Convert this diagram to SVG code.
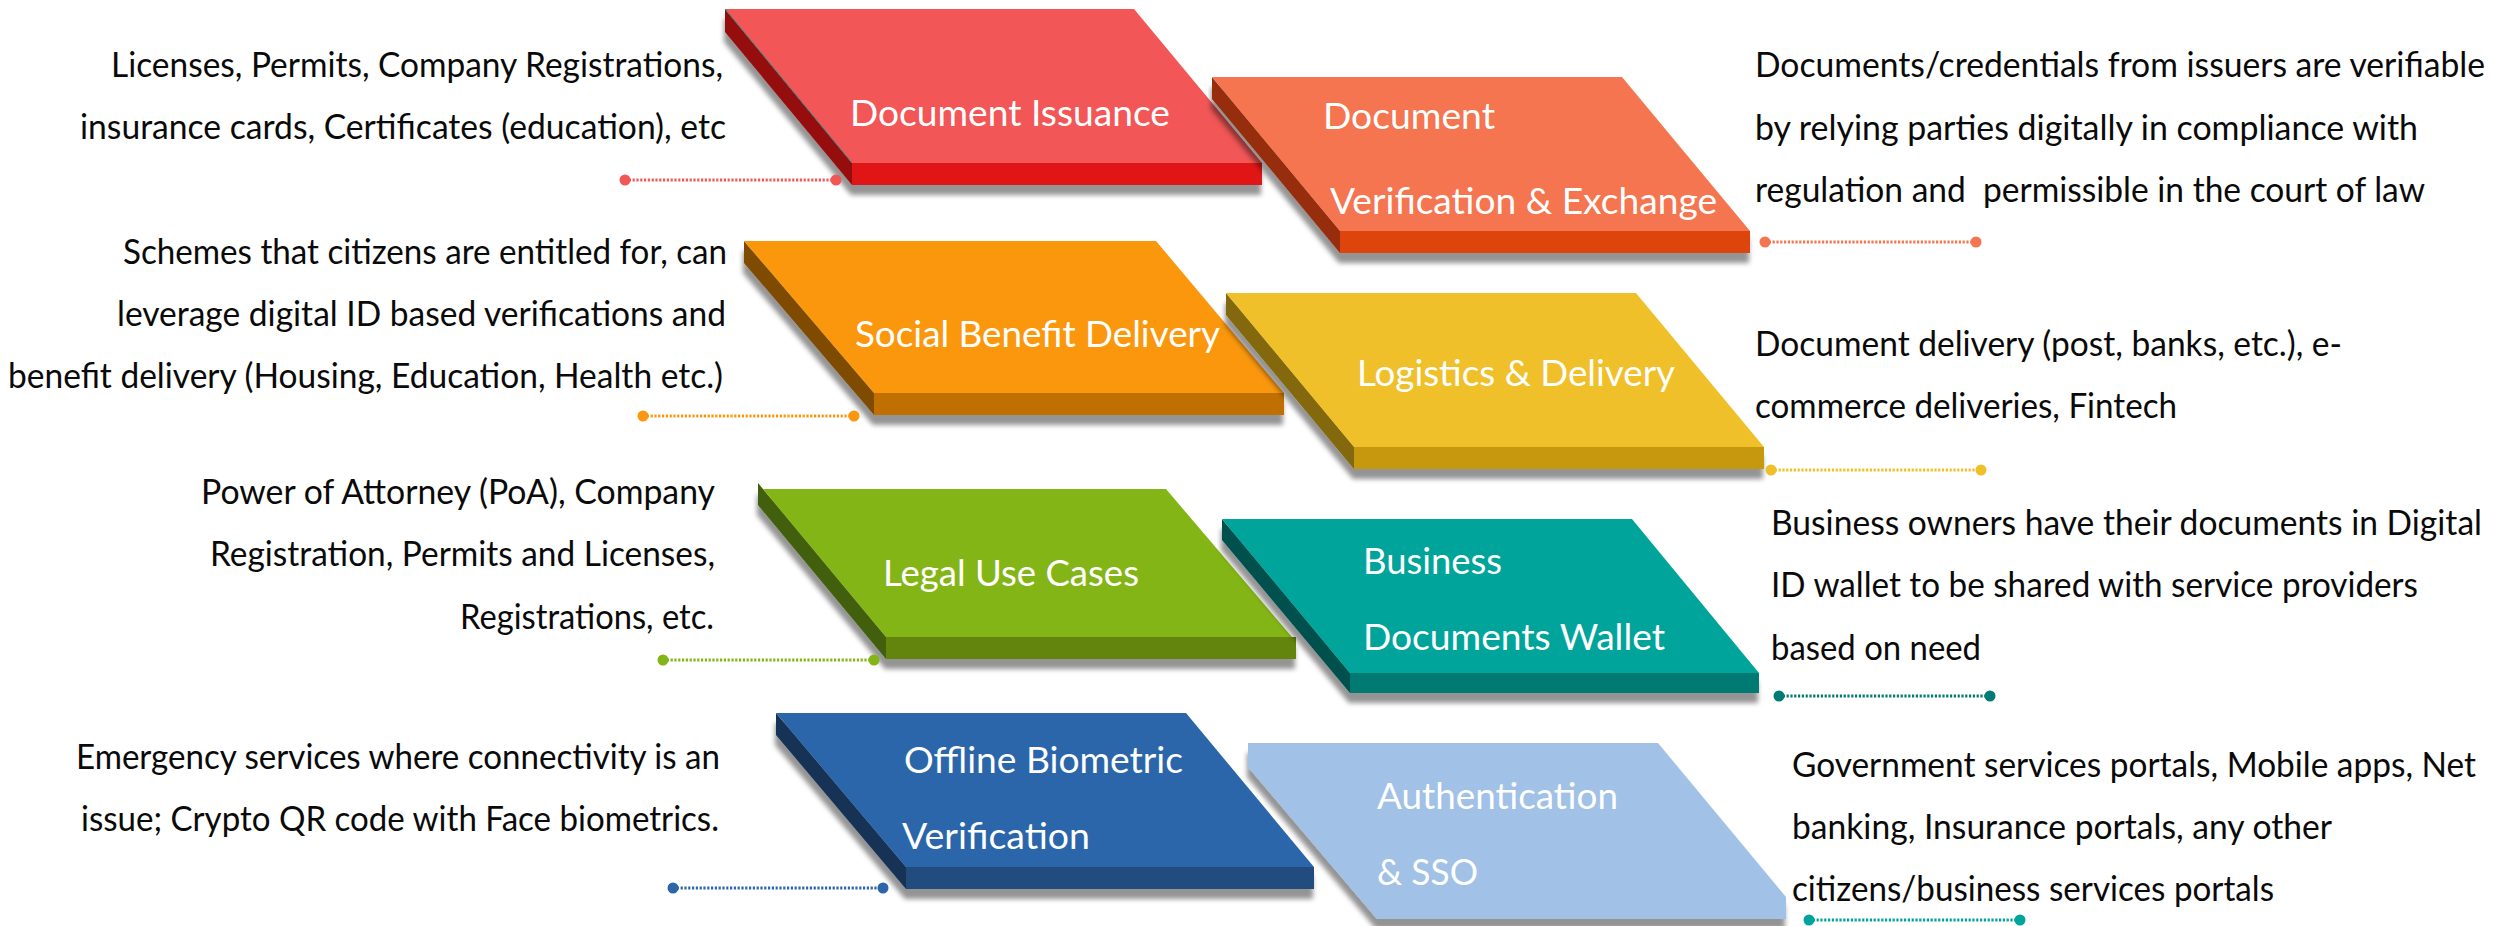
<svg xmlns="http://www.w3.org/2000/svg" width="2511" height="926" viewBox="0 0 2511 926">
<defs>
<filter id="sh" x="-10%" y="-10%" width="120%" height="125%">
<feGaussianBlur in="SourceAlpha" stdDeviation="2.5"/>
<feOffset dx="-1" dy="10" result="b"/>
<feFlood flood-color="#000" flood-opacity="0.42"/>
<feComposite in2="b" operator="in"/>
<feMerge><feMergeNode/><feMergeNode in="SourceGraphic"/></feMerge>
</filter>
</defs>
<style>
text{font-family:"Lato","Open Sans","Liberation Sans",sans-serif;white-space:pre}
.d{font-size:34px;fill:#0a0a0a}
.n{font-size:37px;fill:#fff}
.s{filter:url(#sh)}
#connectors line{stroke-width:3;stroke-dasharray:2.2 1.6}
#connectors circle{stroke:none}
</style>
<rect width="2511" height="926" fill="#fff"/>

<g id="node-document-issuance">
<g class="s">
<polygon points="725,9 852,163 852,185 725,32" fill="#950d0f"/>
<polygon points="725,9 1134,9 1262,163 852,163" fill="#f25757"/>
<rect x="852" y="163" width="410" height="22" fill="#e01515"/>
<line x1="725" y1="9" x2="852" y2="163" stroke="#2a8a86" stroke-width="1"/>
</g>
<text class="n" x="850" y="126" textLength="320" lengthAdjust="spacingAndGlyphs">Document Issuance</text>
</g>

<g id="node-social-benefit">
<g class="s">
<polygon points="744,241 874,393 874,415 744,263" fill="#7f4c02"/>
<polygon points="744,241 1156,241 1284,393 874,393" fill="#fb970f"/>
<rect x="874" y="393" width="410" height="22" fill="#bf7005"/>
</g>
<text class="n" x="855" y="347" textLength="365" lengthAdjust="spacingAndGlyphs">Social Benefit Delivery</text>
</g>

<g id="node-legal">
<g class="s">
<polygon points="758,483 886,637 886,659 758,505" fill="#425f09"/>
<polygon points="763,489 1166,489 1292,637 886,637" fill="#84b516"/>
<rect x="886" y="637" width="410" height="22" fill="#64840f"/>
</g>
<text class="n" x="883" y="586" textLength="256" lengthAdjust="spacingAndGlyphs">Legal Use Cases</text>
</g>

<g id="node-offline-biometric">
<g class="s">
<polygon points="776,713 906,867 906,889 776,735" fill="#183354"/>
<polygon points="776,713 1186,713 1314,867 906,867" fill="#2c66a9"/>
<rect x="906" y="867" width="408" height="22" fill="#204c7e"/>
</g>
<text class="n" x="904" y="773" textLength="279" lengthAdjust="spacingAndGlyphs">Offline Biometric</text>
<text class="n" x="902" y="849" textLength="188" lengthAdjust="spacingAndGlyphs">Verification</text>
</g>

<g id="node-document-verification">
<g class="s">
<polygon points="1212,77 1340,231 1340,253 1212,99" fill="#962e0c"/>
<polygon points="1212,77 1622,77 1750,231 1340,231" fill="#f4754f"/>
<rect x="1340" y="231" width="410" height="22" fill="#dd4410"/>
</g>
<text class="n" x="1323" y="129" textLength="172" lengthAdjust="spacingAndGlyphs">Document</text>
<text class="n" x="1330" y="214" textLength="387" lengthAdjust="spacingAndGlyphs">Verification &amp; Exchange</text>
</g>

<g id="node-logistics">
<g class="s">
<polygon points="1226,293 1354,447 1354,469 1226,315" fill="#836707"/>
<polygon points="1226,293 1636,293 1764,447 1354,447" fill="#efc02a"/>
<rect x="1354" y="447" width="410" height="22" fill="#c5980f"/>
</g>
<text class="n" x="1357" y="386" textLength="318" lengthAdjust="spacingAndGlyphs">Logistics &amp; Delivery</text>
</g>

<g id="node-business-wallet">
<g class="s">
<polygon points="1222,519 1350,673 1350,693 1222,540" fill="#00514d"/>
<polygon points="1222,519 1632,519 1759,673 1350,673" fill="#00a49b"/>
<rect x="1350" y="673" width="409" height="20" fill="#007a73"/>
</g>
<text class="n" x="1363" y="574" textLength="139" lengthAdjust="spacingAndGlyphs">Business</text>
<text class="n" x="1363" y="650" textLength="302" lengthAdjust="spacingAndGlyphs">Documents Wallet</text>
</g>

<g id="node-authentication">
<g class="s">
<polygon points="1248,743 1658,743 1786,897 1786,919 1377,919 1248,767" fill="#a1c1e6"/>
</g>
<text class="n" x="1377" y="809" textLength="241" lengthAdjust="spacingAndGlyphs">Authentication</text>
<text class="n" x="1377" y="885" textLength="101" lengthAdjust="spacingAndGlyphs">&amp; SSO</text>
</g>

<g id="connectors">
<g stroke="#f25757" fill="#f25757"><line x1="625" y1="180" x2="836" y2="180"/><circle cx="625" cy="180" r="5.5"/><circle cx="836" cy="180" r="5.5"/></g>
<g stroke="#fb970f" fill="#fb970f"><line x1="643" y1="416" x2="854" y2="416"/><circle cx="643" cy="416" r="5.5"/><circle cx="854" cy="416" r="5.5"/></g>
<g stroke="#84b516" fill="#84b516"><line x1="663" y1="660" x2="874" y2="660"/><circle cx="663" cy="660" r="5.5"/><circle cx="874" cy="660" r="5.5"/></g>
<g stroke="#2c66a9" fill="#2c66a9"><line x1="673" y1="888" x2="883" y2="888"/><circle cx="673" cy="888" r="5.5"/><circle cx="883" cy="888" r="5.5"/></g>
<g stroke="#f4754f" fill="#f4754f"><line x1="1765" y1="242" x2="1976" y2="242"/><circle cx="1765" cy="242" r="5.5"/><circle cx="1976" cy="242" r="5.5"/></g>
<g stroke="#efc02a" fill="#efc02a"><line x1="1771" y1="470" x2="1981" y2="470"/><circle cx="1771" cy="470" r="5.5"/><circle cx="1981" cy="470" r="5.5"/></g>
<g stroke="#007a73" fill="#007a73"><line x1="1779" y1="696" x2="1990" y2="696"/><circle cx="1779" cy="696" r="5.5"/><circle cx="1990" cy="696" r="5.5"/></g>
<g stroke="#00a49b" fill="#00a49b"><line x1="1809" y1="920" x2="2020" y2="920"/><circle cx="1809" cy="920" r="5.5"/><circle cx="2020" cy="920" r="5.5"/></g>
</g>

<g id="desc-document-issuance">
<text class="d" x="111" y="77" textLength="612" lengthAdjust="spacingAndGlyphs">Licenses, Permits, Company Registrations,</text>
<text class="d" x="80" y="139" textLength="646" lengthAdjust="spacingAndGlyphs">insurance cards, Certificates (education), etc</text>
</g>
<g id="desc-social-benefit">
<text class="d" x="123" y="264" textLength="604" lengthAdjust="spacingAndGlyphs">Schemes that citizens are entitled for, can</text>
<text class="d" x="117" y="326" textLength="609" lengthAdjust="spacingAndGlyphs">leverage digital ID based verifications and</text>
<text class="d" x="8" y="388" textLength="715" lengthAdjust="spacingAndGlyphs">benefit delivery (Housing, Education, Health etc.)</text>
</g>
<g id="desc-legal">
<text class="d" x="201" y="504" textLength="514" lengthAdjust="spacingAndGlyphs">Power of Attorney (PoA), Company</text>
<text class="d" x="210" y="566" textLength="505" lengthAdjust="spacingAndGlyphs">Registration, Permits and Licenses,</text>
<text class="d" x="460" y="629" textLength="254" lengthAdjust="spacingAndGlyphs">Registrations, etc.</text>
</g>
<g id="desc-offline-biometric">
<text class="d" x="76" y="769" textLength="644" lengthAdjust="spacingAndGlyphs">Emergency services where connectivity is an</text>
<text class="d" x="81" y="831" textLength="638" lengthAdjust="spacingAndGlyphs">issue; Crypto QR code with Face biometrics.</text>
</g>
<g id="desc-document-verification">
<text class="d" x="1755" y="77" textLength="730" lengthAdjust="spacingAndGlyphs">Documents/credentials from issuers are verifiable</text>
<text class="d" x="1755" y="140" textLength="663" lengthAdjust="spacingAndGlyphs">by relying parties digitally in compliance with</text>
<text class="d" x="1755" y="202" textLength="670" lengthAdjust="spacingAndGlyphs">regulation and  permissible in the court of law</text>
</g>
<g id="desc-logistics">
<text class="d" x="1755" y="356" textLength="587" lengthAdjust="spacingAndGlyphs">Document delivery (post, banks, etc.), e-</text>
<text class="d" x="1755" y="418" textLength="422" lengthAdjust="spacingAndGlyphs">commerce deliveries, Fintech</text>
</g>
<g id="desc-business-wallet">
<text class="d" x="1771" y="535" textLength="711" lengthAdjust="spacingAndGlyphs">Business owners have their documents in Digital</text>
<text class="d" x="1771" y="597" textLength="647" lengthAdjust="spacingAndGlyphs">ID wallet to be shared with service providers</text>
<text class="d" x="1771" y="660" textLength="210" lengthAdjust="spacingAndGlyphs">based on need</text>
</g>
<g id="desc-authentication">
<text class="d" x="1792" y="777" textLength="684" lengthAdjust="spacingAndGlyphs">Government services portals, Mobile apps, Net</text>
<text class="d" x="1792" y="839" textLength="540" lengthAdjust="spacingAndGlyphs">banking, Insurance portals, any other</text>
<text class="d" x="1792" y="901" textLength="482" lengthAdjust="spacingAndGlyphs">citizens/business services portals</text>
</g>
</svg>
